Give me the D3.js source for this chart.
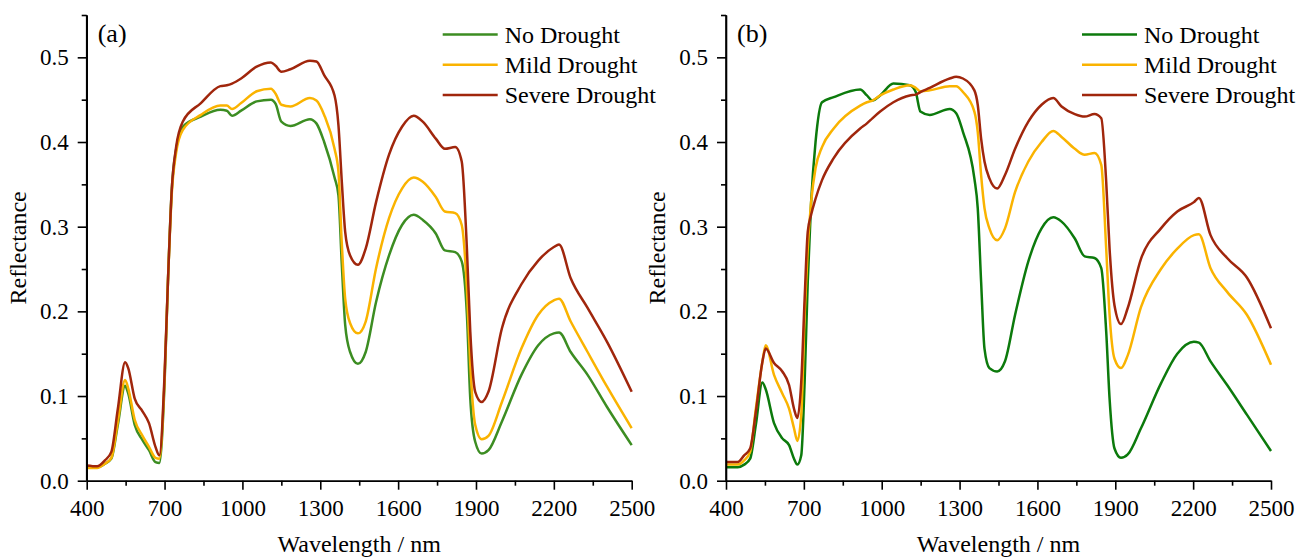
<!DOCTYPE html>
<html>
<head>
<meta charset="utf-8">
<script src="https://cdn.jsdelivr.net/npm/d3@7"></script>
<style>
  body { margin: 0; background: #fff; }
  text { font-family: "Liberation Serif", "Times New Roman", serif; }
</style>
</head>
<body>
<div id="chart"></div>
<script>
// ---- data ----
var seriesNames = ["No Drought", "Mild Drought", "Severe Drought"];

// panel (a)
var wavelengthA = [400, 440, 470, 495, 520, 548, 560, 585, 615, 640, 665, 680, 700, 713, 728, 745, 770, 840, 915, 940,
    960, 995, 1055, 1110, 1128, 1150, 1185, 1260, 1285, 1315, 1355, 1370, 1383, 1396, 1415, 1445, 1475, 1515, 1565, 1615,
    1660, 1695, 1745, 1780, 1820, 1845, 1865, 1878, 1897, 1922, 1948, 2000, 2075, 2140, 2200, 2220, 2265, 2330, 2405, 2500];
var noDroughtA = [0.016, 0.016, 0.020, 0.026, 0.066, 0.112, 0.103, 0.066, 0.048, 0.036,
    0.022, 0.021, 0.115, 0.235, 0.345, 0.392, 0.418, 0.430, 0.438, 0.437,
    0.431, 0.437, 0.448, 0.450, 0.445, 0.424, 0.419, 0.427, 0.422, 0.400,
    0.358, 0.337, 0.255, 0.184, 0.152, 0.138, 0.152, 0.211, 0.266, 0.302,
    0.314, 0.308, 0.292, 0.272, 0.270, 0.259, 0.196, 0.097, 0.046, 0.032,
    0.036, 0.070, 0.125, 0.160, 0.174, 0.175, 0.152, 0.125, 0.087, 0.042];
var mildDroughtA = [0.015, 0.015, 0.020, 0.027, 0.070, 0.119, 0.109, 0.072, 0.053, 0.040,
    0.027, 0.026, 0.120, 0.235, 0.340, 0.388, 0.414, 0.432, 0.443, 0.443,
    0.439, 0.446, 0.460, 0.463, 0.457, 0.444, 0.442, 0.452, 0.449, 0.432,
    0.392, 0.365, 0.280, 0.215, 0.186, 0.174, 0.188, 0.251, 0.310, 0.345,
    0.358, 0.353, 0.335, 0.318, 0.316, 0.302, 0.227, 0.137, 0.066, 0.049,
    0.053, 0.093, 0.156, 0.196, 0.213, 0.215, 0.188, 0.152, 0.111, 0.062];
var severeDroughtA = [0.018, 0.017, 0.024, 0.034, 0.085, 0.140, 0.133, 0.097, 0.082, 0.068,
    0.040, 0.030, 0.125, 0.235, 0.345, 0.395, 0.424, 0.446, 0.466, 0.467,
    0.469, 0.475, 0.489, 0.494, 0.490, 0.483, 0.486, 0.496, 0.495, 0.479,
    0.455, 0.420, 0.353, 0.294, 0.266, 0.255, 0.274, 0.329, 0.385, 0.418,
    0.431, 0.424, 0.404, 0.392, 0.394, 0.377, 0.274, 0.176, 0.105, 0.093,
    0.105, 0.180, 0.232, 0.260, 0.276, 0.279, 0.239, 0.204, 0.164, 0.105];

// panel (b)
var wavelengthB = [400, 445, 470, 493, 515, 540, 553, 585, 617, 643, 662, 675, 690, 703, 715, 728, 745, 770, 815, 917,
    943, 964, 994, 1045, 1108, 1131, 1149, 1185, 1262, 1287, 1313, 1357, 1370, 1383, 1396, 1415, 1445, 1475, 1514, 1565,
    1616, 1661, 1693, 1744, 1782, 1820, 1846, 1865, 1878, 1897, 1922, 1948, 1999, 2076, 2139, 2203, 2222, 2267, 2331, 2407, 2500];
var noDroughtB = [0.016, 0.016, 0.019, 0.026, 0.066, 0.116, 0.108, 0.068, 0.050, 0.042,
    0.026, 0.019, 0.030, 0.117, 0.235, 0.329, 0.400, 0.447, 0.453, 0.462,
    0.455, 0.449, 0.455, 0.469, 0.467, 0.459, 0.436, 0.432, 0.439, 0.434,
    0.412, 0.357, 0.322, 0.235, 0.156, 0.133, 0.129, 0.141, 0.196, 0.259,
    0.298, 0.311, 0.306, 0.286, 0.265, 0.263, 0.251, 0.176, 0.097, 0.038,
    0.027, 0.031, 0.062, 0.115, 0.150, 0.164, 0.163, 0.141, 0.113, 0.078, 0.035];
var mildDroughtB = [0.019, 0.019, 0.024, 0.034, 0.085, 0.140, 0.160, 0.125, 0.103, 0.085,
    0.062, 0.047, 0.078, 0.196, 0.274, 0.329, 0.369, 0.394, 0.416, 0.443,
    0.447, 0.449, 0.455, 0.462, 0.467, 0.464, 0.460, 0.461, 0.466, 0.466,
    0.459, 0.436, 0.412, 0.361, 0.322, 0.298, 0.284, 0.298, 0.341, 0.377,
    0.400, 0.413, 0.406, 0.392, 0.385, 0.387, 0.373, 0.274, 0.196, 0.144,
    0.133, 0.148, 0.205, 0.250, 0.274, 0.290, 0.291, 0.251, 0.223, 0.196, 0.137];
var severeDroughtB = [0.022, 0.022, 0.030, 0.038, 0.081, 0.140, 0.156, 0.139, 0.129, 0.113,
    0.085, 0.074, 0.117, 0.215, 0.294, 0.314, 0.333, 0.355, 0.381, 0.416,
    0.422, 0.428, 0.436, 0.447, 0.455, 0.456, 0.459, 0.464, 0.475, 0.477,
    0.475, 0.461, 0.444, 0.404, 0.377, 0.357, 0.345, 0.361, 0.392, 0.424,
    0.444, 0.452, 0.442, 0.433, 0.430, 0.433, 0.428, 0.353, 0.274, 0.207,
    0.185, 0.204, 0.262, 0.298, 0.318, 0.329, 0.334, 0.290, 0.263, 0.240, 0.180];

var xMajor = [400, 700, 1000, 1300, 1600, 1900, 2200, 2500];
var xMinor = [550, 850, 1150, 1450, 1750, 2050, 2350];
var yMajor = [0, 0.1, 0.2, 0.3, 0.4, 0.5];
var yMinor = [0.05, 0.15, 0.25, 0.35, 0.45, 0.55];

// ---- layout ----
var width = 1307, height = 557;
var yTop = 15, yBottom = 480.7;
var plotWidth = 545;

var svg = d3.select("#chart")
    .append("svg")
    .attr("width", width)
    .attr("height", height);

function drawPanel(left, label, wl, values, colors) {
    var x = d3.scaleLinear().domain([400, 2500]).range([left, left + plotWidth]);
    var y = d3.scaleLinear().domain([0, 0.55]).range([yBottom, yTop]);

    var g = svg.append("g");

    // curves
    var line = d3.line()
        .x(function (d) { return x(d[0]); })
        .y(function (d) { return y(d[1]); })
        .curve(d3.curveMonotoneX);

    for (var i = 0; i < values.length; i++) {
        var pts = wl.map(function (w, j) { return [w, values[i][j]]; });
        g.append("path")
            .datum(pts)
            .attr("d", line)
            .attr("fill", "none")
            .attr("stroke", colors[i])
            .attr("stroke-width", 2.5)
            .attr("stroke-linejoin", "round");
    }

    // minor ticks
    g.append("g")
        .attr("transform", "translate(0," + yBottom + ")")
        .call(d3.axisBottom(x).tickValues(xMinor).tickSize(5).tickSizeOuter(0).tickFormat(""));
    g.append("g")
        .attr("transform", "translate(" + left + ",0)")
        .call(d3.axisLeft(y).tickValues(yMinor).tickSize(5).tickSizeOuter(0).tickFormat(""));

    // major axes
    g.append("g")
        .attr("transform", "translate(0," + yBottom + ")")
        .call(d3.axisBottom(x).tickValues(xMajor).tickSize(9).tickSizeOuter(0).tickPadding(10)
            .tickFormat(d3.format("d")));
    var yAxis = g.append("g")
        .attr("transform", "translate(" + left + ",0)")
        .call(d3.axisLeft(y).tickValues(yMajor).tickSize(9).tickSizeOuter(0).tickPadding(9)
            .tickFormat(d3.format(".1f")));

    g.selectAll(".domain, .tick line")
        .attr("stroke", "#000")
        .attr("stroke-width", 1.6);
    g.selectAll(".tick text")
        .attr("fill", "#000")
        .style("font-size", "23px")
        .style("font-family", "'Liberation Serif', serif");
    // y axis line goes up to 0.55
    yAxis.select(".domain").attr("d", "M0," + yBottom + "V" + yTop);

    // panel label
    g.append("text")
        .attr("x", left + 11)
        .attr("y", 42)
        .style("font-size", "26px")
        .text(label);

    // axis titles
    g.append("text")
        .attr("x", left + plotWidth / 2)
        .attr("y", 552)
        .attr("text-anchor", "middle")
        .style("font-size", "24px")
        .text("Wavelength / nm");
    g.append("text")
        .attr("transform", "translate(" + (left - 61) + "," + ((yTop + yBottom) / 2) + ") rotate(-90)")
        .attr("text-anchor", "middle")
        .style("font-size", "24px")
        .text("Reflectance");

    // legend
    var lx = left + 356;
    for (var k = 0; k < seriesNames.length; k++) {
        var ly = 34.5 + k * 30.3;
        g.append("line")
            .attr("x1", lx).attr("x2", lx + 55)
            .attr("y1", ly).attr("y2", ly)
            .attr("stroke", colors[k])
            .attr("stroke-width", 2.5);
        g.append("text")
            .attr("x", lx + 62)
            .attr("y", ly + 8)
            .style("font-size", "24px")
            .text(seriesNames[k]);
    }
}

drawPanel(86.7, "(a)", wavelengthA, [noDroughtA, mildDroughtA, severeDroughtA],
    ["#3c8d22", "#fab300", "#a0260c"]);
drawPanel(726, "(b)", wavelengthB, [noDroughtB, mildDroughtB, severeDroughtB],
    ["#0c7a0c", "#fab300", "#a0260c"]);
</script>
</body>
</html>
